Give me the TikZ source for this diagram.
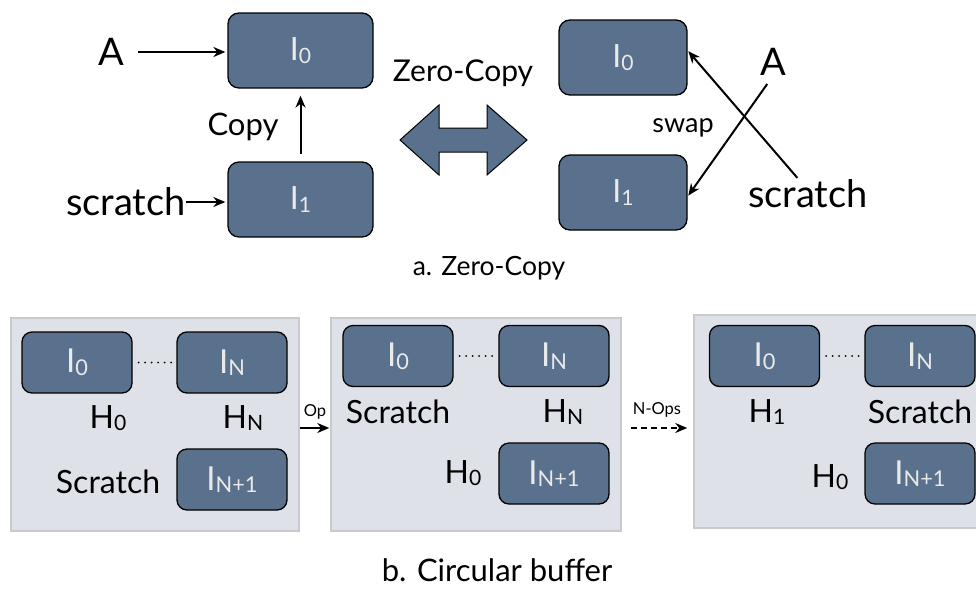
\documentclass[tikz,border=0pt]{standalone}
\usepackage{fontspec}
\setmainfont{Lato}
\usetikzlibrary{calc,arrows.meta}
\definecolor{boxblue}{RGB}{90,113,142}
\definecolor{panelgrey}{RGB}{222,226,232}
\definecolor{panelline}{RGB}{200,202,206}
\definecolor{boxtext}{RGB}{234,234,234}
\newcommand{\lsub}[1]{\raisebox{-0.08em}{\scalebox{0.66}{#1}}}
\begin{document}
\begin{tikzpicture}[x=1pt,y=-1pt,
 regbox/.style={draw=black, line width=1.3pt, fill=boxblue, rounded corners=11pt, minimum width=145pt, minimum height=75pt, text=boxtext, font=\fontsize{32}{34}\selectfont, inner sep=0},
 regboxr/.style={regbox, minimum width=128pt},
 smallreg/.style={regbox, minimum width=110pt, minimum height=61pt, rounded corners=10pt, font=\fontsize{33}{35}\selectfont},
 panel/.style={draw=panelline, line width=1.5pt, fill=panelgrey, inner sep=0, minimum height=213pt},
 lbl/.style={inner sep=0, font=\fontsize{32}{34}\selectfont},
 biglbl/.style={inner sep=0, font=\fontsize{38}{40}\selectfont},
 midlbl/.style={inner sep=0, font=\fontsize{30}{32}\selectfont},
 tinylbl/.style={inner sep=0, font=\fontsize{16.5}{18}\selectfont},
 arr/.style={-{Stealth[length=12pt,width=10pt]}, line width=2pt},
 dots/.style={line width=2pt, line cap=round, dash pattern=on 0pt off 6.5pt},
]
\clip (0,0) rectangle (976,592);
\useasboundingbox (0,0) rectangle (976,592);

% ---------- a. Zero-Copy, left ----------
\node[regbox] (I0a) at (300.5,50.5) {I\lsub{0}};
\node[regbox] (I1a) at (300.5,199.5) {I\lsub{1}};
\node[biglbl] (Aa) at (111,52) {A};
\node[biglbl] (Sa) at (126,202) {scratch};
\node[midlbl, font=\fontsize{31}{33}\selectfont] (Ca) at (243,127) {Copy};
\draw[arr, shorten <=14pt, shorten >=2pt] (Aa.east) -- (Aa.east -| I0a.west);
\draw[arr, shorten >=2pt] (Sa.east) -- (Sa.east -| I1a.west);
\draw[arr, shorten <=7pt, shorten >=7pt] (I1a) -- (I0a);

% ---------- double arrow ----------
\node[midlbl] (ZC) at (463,73) {Zero-Copy};
\draw[line width=1pt, fill=boxblue, line join=miter]
  (400,140) -- (439,105) -- (439,128) -- (487,128) -- (487,105) -- (527,140)
  -- (487,175) -- (487,152) -- (439,152) -- (439,175) -- cycle;

% ---------- a. Zero-Copy, right ----------
\node[regboxr] (I0b) at (623,57.5) {I\lsub{0}};
\node[regboxr] (I1b) at (623,192.5) {I\lsub{1}};
\node[biglbl] (Ab) at (773,62) {A};
\node[biglbl] (Sb) at (808,194) {scratch};
\node[midlbl, font=\fontsize{27}{29}\selectfont] (Wb) at (683,128) {swap};
\draw[arr, shorten <=10pt, shorten >=1pt] (Ab.south) -- ([yshift=-4pt]I1b.east);
\draw[arr, shorten <=1pt, shorten >=1pt] ([xshift=-10pt,yshift=1pt]Sb.north) -- ([yshift=7pt]I0b.east);

\node[midlbl, font=\fontsize{26.5}{28}\selectfont] (capa) at (489,268) {a. Zero-Copy};

% ---------- b. panels ----------
\node[panel, minimum width=288pt] (P1) at (155,424.5) {};
\node[panel, minimum width=290pt] (P2) at (476,424.5) {};
\node[panel, minimum width=296pt] (P3) at (842,421.5) {};

% panel 1
\node[smallreg] (I0c) at (77,362.5) {I\lsub{0}};
\node[smallreg] (INc) at (232,362.5) {I\lsub{N}};
\node[smallreg] (IXc) at (232,479.5) {I\lsub{N+1}};
\node[lbl] (H0c) at (108,418) {H\lsub{0}};
\node[lbl] (HNc) at (243,418) {H\lsub{N}};
\node[lbl] (Sc) at (108,482) {Scratch};
\draw[dots, shorten <=6pt, shorten >=3pt] (I0c.east) -- (INc.west);

% panel 2
\node[smallreg] (I0d) at (398,356) {I\lsub{0}};
\node[smallreg] (INd) at (554,356) {I\lsub{N}};
\node[smallreg] (IXd) at (554,473.5) {I\lsub{N+1}};
\node[lbl] (Sd) at (398,412) {Scratch};
\node[lbl] (HNd) at (563,412) {H\lsub{N}};
\node[lbl] (H0d) at (463,473) {H\lsub{0}};
\draw[dots, shorten <=6pt, shorten >=3pt] (I0d.east) -- (INd.west);

% panel 3
\node[smallreg] (I0e) at (764.5,356) {I\lsub{0}};
\node[smallreg] (INe) at (920,356) {I\lsub{N}};
\node[smallreg] (IXe) at (920,473.5) {I\lsub{N+1}};
\node[lbl] (H1e) at (767,412) {H\lsub{1}};
\node[lbl] (Se) at (920,412) {Scratch};
\node[lbl] (H0e) at (830,477) {H\lsub{0}};
\draw[dots, shorten <=6pt, shorten >=3pt] (I0e.east) -- (INe.west);

% arrows between panels
\draw[arr, shorten >=1pt] ([yshift=-3.5pt]P1.east) -- ([yshift=-3.5pt]P1.east -| P2.west);
\node[tinylbl] (Op) at (315,412) {Op};
\draw[arr, dash pattern=on 6pt off 4pt, shorten <=9pt, shorten >=6pt] ([yshift=-3.5pt]P2.east) -- ([yshift=-3.5pt]P2.east -| P3.west);
\node[tinylbl] (NOp) at (657,410) {N-Ops};

\node[midlbl, font=\fontsize{31}{33}\selectfont] (capb) at (497,570) {b. Circular buffer};
\end{tikzpicture}
\end{document}
